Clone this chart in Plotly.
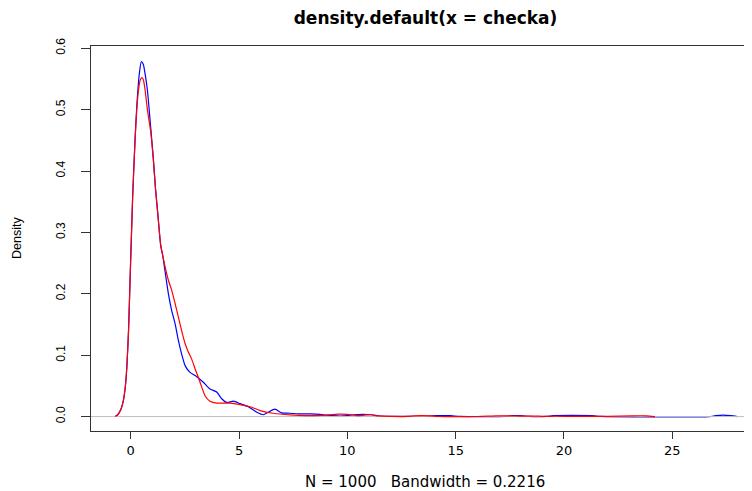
import plotly.graph_objects as go

# ---- data ----
blue_x = [-0.72, -0.6, -0.45, -0.34, -0.25, -0.18, -0.1, -0.03, 0.09, 0.20, 0.28, 0.40, 0.49, 0.58,
          0.66, 0.77, 0.92, 1.04, 1.14, 1.25, 1.385, 1.48, 1.58, 1.74, 1.89, 2.05, 2.20, 2.35, 2.51,
          2.74, 3.05, 3.35, 3.66, 3.97, 4.20, 4.43, 4.74, 5.05, 5.43, 5.82, 6.12, 6.35, 6.66, 6.97,
          7.35, 7.74, 8.3, 8.9, 9.3, 9.8, 10.3, 11.1, 11.5, 12.5, 13.5, 14.05, 14.75, 15.2, 17.3,
          17.6, 18.0, 18.4, 19.2, 19.5, 21.3, 21.7, 26.7, 27.0, 27.35, 27.7, 28.0]
blue_y = [0.0, 0.003, 0.012, 0.026, 0.048, 0.08, 0.14, 0.222, 0.358, 0.45, 0.505, 0.559, 0.578, 0.574,
          0.559, 0.532, 0.472, 0.423, 0.374, 0.331, 0.278, 0.262, 0.238, 0.200, 0.173, 0.151, 0.124,
          0.102, 0.083, 0.072, 0.065, 0.056, 0.045, 0.040, 0.029, 0.023, 0.025, 0.021, 0.016, 0.007,
          0.003, 0.007, 0.012, 0.006, 0.0054, 0.0044, 0.0045, 0.003, 0.0015, 0.001, 0.003, 0.003,
          0.0008, 0.0003, 0.0003, 0.0015, 0.0015, 0.0002, 0.0002, 0.0015, 0.0015, 0.0002, 0.0003,
          0.0015, 0.0015, 0.0002, 0.0, 0.0015, 0.0025, 0.0015, 0.0]

red_x = [-0.72, -0.6, -0.45, -0.34, -0.25, -0.18, -0.1, -0.03, 0.09, 0.20, 0.28, 0.36, 0.44, 0.51,
         0.58, 0.66, 0.77, 0.92, 1.04, 1.14, 1.25, 1.385, 1.48, 1.58, 1.74, 1.89, 2.05, 2.20, 2.35,
         2.51, 2.66, 2.81, 2.97, 3.12, 3.28, 3.43, 3.66, 3.97, 4.58, 5.05, 5.51, 5.97, 6.58, 7.35,
         8.1, 8.8, 9.6, 10.0, 10.5, 11.1, 11.4, 12.0, 12.8, 13.1, 13.8, 14.2, 16.0, 16.9, 17.5,
         18.0, 18.7, 19.0, 19.6, 20.5, 22.0, 23.2, 23.8, 24.2]
red_y = [0.0, 0.003, 0.012, 0.026, 0.048, 0.08, 0.14, 0.222, 0.358, 0.45, 0.500, 0.532, 0.548, 0.552,
         0.549, 0.533, 0.500, 0.465, 0.420, 0.372, 0.330, 0.280, 0.262, 0.245, 0.222, 0.206, 0.184,
         0.162, 0.140, 0.119, 0.105, 0.094, 0.078, 0.064, 0.048, 0.034, 0.025, 0.022, 0.022, 0.0196,
         0.016, 0.0098, 0.0054, 0.0028, 0.0016, 0.002, 0.004, 0.0035, 0.0015, 0.003, 0.001, 0.0003,
         0.0002, 0.0012, 0.0012, 0.0001, 0.0001, 0.001, 0.001, 0.0008, 0.0008, 0.0004, 0.0005,
         0.0003, 0.0002, 0.0012, 0.0012, 0.0]

x_ticks = [0, 5, 10, 15, 20, 25]
y_ticks = [0.0, 0.1, 0.2, 0.3, 0.4, 0.5, 0.6]
y_tick_labels = ["0.0", "0.1", "0.2", "0.3", "0.4", "0.5", "0.6"]
X_RANGE = [-1.833, 28.68]
Y_RANGE = [-0.0235, 0.6036]

title_text = "density.default(x = checka)"
sub_text = "N = 1000   Bandwidth = 0.2216"
y_title = "Density"

# the page body has an 8px margin, so the figure is made 8px smaller and shifted
OFF = 8
W, H = 752 - OFF, 491 - OFF
L, R, T, B = 91 - OFF, 0, 46 - OFF, 60
PW, PH = W - L - R, H - T - B


def px_x(xp):  # window pixel x -> paper x
    return (xp - OFF - L) / PW


def px_y(yp):  # window pixel y -> paper y
    return (H - B - (yp - OFF)) / PH


fig = go.Figure()
fig.add_trace(go.Scatter(x=blue_x, y=blue_y, mode="lines",
                         line=dict(color="#0000FF", width=1.2, shape="spline", smoothing=0.6),
                         hoverinfo="skip", showlegend=False))
# gray zero line (drawn over the first curve, as in R's plot.density)
fig.add_trace(go.Scatter(x=X_RANGE, y=[0, 0], mode="lines",
                         line=dict(color="#BEBEBE", width=1),
                         hoverinfo="skip", showlegend=False))
fig.add_trace(go.Scatter(x=red_x, y=red_y, mode="lines",
                         line=dict(color="#FF0000", width=1.2, shape="spline", smoothing=0.6),
                         hoverinfo="skip", showlegend=False))

fig.update_layout(
    width=W, height=H,
    margin=dict(l=L, r=R, t=T, b=B, pad=0, autoexpand=False),
    paper_bgcolor="white", plot_bgcolor="white",
    showlegend=False,
    title=dict(text=title_text, x=px_x(425.5), xref="paper",
               xanchor="center", y=1 - (18 - OFF) / H, yref="container", yanchor="middle",
               font=dict(family="DejaVu Sans", size=17, color="black", weight="bold")),
    xaxis=dict(range=X_RANGE, tickvals=x_ticks, ticktext=[str(v) for v in x_ticks],
               showgrid=False, zeroline=False, showline=True, linecolor="#333333",
               linewidth=1, mirror=True, ticks="outside", ticklen=7, tickcolor="#333333",
               tickwidth=1, tickfont=dict(family="DejaVu Sans", size=13, color="black"),
               ticklabelstandoff=0),
    yaxis=dict(range=Y_RANGE, tickvals=y_ticks, ticktext=y_tick_labels,
               showgrid=False, zeroline=False, showline=True, linecolor="#333333",
               linewidth=1, mirror=False, ticks="outside", ticklen=9, tickcolor="#333333",
               tickwidth=1, tickangle=-90,
               tickfont=dict(family="Liberation Sans", size=12, color="black"),
               ticklabelstandoff=11),
    annotations=[
        dict(text=sub_text, x=px_x(425.5), xref="paper",
             y=px_y(482), yref="paper",
             xanchor="center", yanchor="middle", showarrow=False,
             font=dict(family="DejaVu Sans", size=15, color="black")),
        dict(text=y_title, x=px_x(17), xref="paper",
             y=px_y(238), yref="paper",
             xanchor="center", yanchor="middle", textangle=-90, showarrow=False,
             font=dict(family="Liberation Sans", size=12.5, color="black")),
    ],
)

fig.write_html("out.html")
